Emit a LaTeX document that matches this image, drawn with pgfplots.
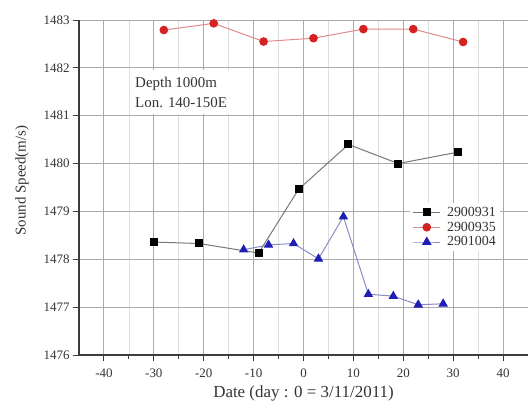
\documentclass[border=0pt]{standalone}
\usepackage{fontspec}
\setmainfont{Liberation Serif}
\usepackage{pgfplots}
\pgfplotsset{compat=1.18}
\definecolor{majgrid}{HTML}{ABABAB}
\definecolor{mingrid}{HTML}{DEDEDE}
\definecolor{axcol}{HTML}{3C3C3C}
\definecolor{redmk}{HTML}{D42222}
\definecolor{redln}{HTML}{E08A8A}
\definecolor{bluemk}{HTML}{1E1EB4}
\definecolor{blueln}{HTML}{8A8AC8}
\definecolor{blackln}{HTML}{777777}
\begin{document}
\begin{tikzpicture}
\begin{axis}[
  name=ax,
  scale only axis,
  width=449bp, height=335bp,
  xmin=-45, xmax=45, ymin=1476, ymax=1483,
  xtick={-40,-30,...,40}, ytick={1476,1477,...,1483},
  minor x tick num=1, minor y tick num=1,
  axis lines*=left,
  axis line style={axcol, line width=1.4bp},
  tick style={axcol, line width=1bp},
  tick align=outside,
  major tick length=6bp, minor tick length=4bp,
  grid=both,
  major grid style={majgrid, line width=0.9bp},
  minor grid style={mingrid, line width=0.7bp},
  /pgf/number format/1000 sep={},
  /pgf/number format/assume math mode=true,
  tick label style={font=\fontsize{13}{13}\selectfont, text=black!80},
  xticklabel style={yshift=-4bp},
  xlabel={Date (day : 0 = 3/11/2011)},
  ylabel={Sound Speed(m/s)},
  xlabel style={font=\fontsize{17}{17}\selectfont, text=black!80, yshift=-1.5bp},
  ylabel style={font=\fontsize{15}{15}\selectfont, text=black!80, yshift=8bp, xshift=7bp},
  legend style={at={(rel axis cs:0.737,0.454)}, anchor=north west, draw=none,
    fill=white, font=\fontsize{14}{14}\selectfont, text=black!80,
    row sep=0bp, inner sep=2bp,
    /tikz/every odd column/.append style={column sep=5bp}},
  legend cell align=left,
  legend image code/.code={\draw[mark repeat=2,mark phase=2] plot coordinates {(0cm,0cm) (0.5cm,0cm) (0.95cm,0cm)};},
]
\addplot[blackln, line width=1bp, mark=square*, mark size=3.5bp,
  mark options={black, fill=black}]
  coordinates {(-30,1478.36) (-21,1478.33) (-9,1478.13) (-1,1479.46)
               (9,1480.40) (19,1480.00) (31,1480.24)};
\addlegendentry{2900931}
\addplot[redln, line width=1bp, mark=*, mark size=3.8bp,
  mark options={redmk, fill=redmk}]
  coordinates {(-28,1482.79) (-18,1482.93) (-8,1482.55) (2,1482.62)
               (12,1482.81) (22,1482.81) (32,1482.54)};
\addlegendentry{2900935}
\addplot[blueln, line width=1bp, mark=triangle*, mark size=4.5bp,
  mark options={bluemk, fill=bluemk}]
  coordinates {(-12,1478.20) (-7,1478.30) (-2,1478.33) (3,1478.01)
               (8,1478.89) (13,1477.27) (18,1477.23) (23,1477.05) (28,1477.07)};
\addlegendentry{2901004}
\node[anchor=north west, fill=white, inner sep=3bp, minimum width=98bp,
  minimum height=44bp, align=left, text=black!80,
  font=\fontsize{15}{20}\selectfont]
  at (axis cs:-34.4,1481.96) {Depth 1000m\\Lon. 140-150E};
\end{axis}
\pgfresetboundingbox
\path ([shift={(-79bp,-47bp)}]ax.south west) rectangle ([shift={(3bp,20bp)}]ax.north east);
\end{tikzpicture}
\end{document}
